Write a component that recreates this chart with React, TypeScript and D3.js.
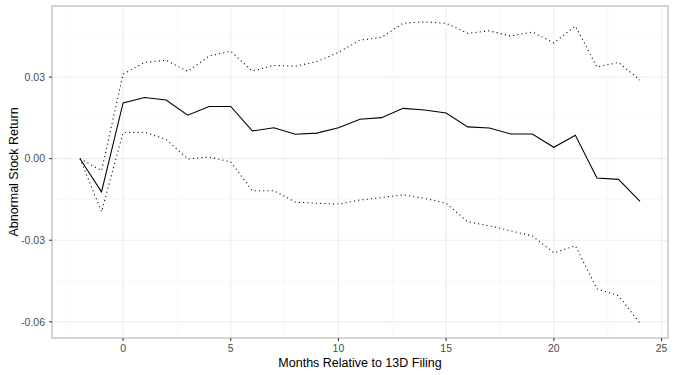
import React from "react";
import * as d3 from "d3";

const months = [-2, -1, 0, 1, 2, 3, 4, 5, 6, 7, 8, 9, 10, 11, 12, 13, 14, 15, 16, 17, 18, 19, 20, 21, 22, 23, 24];
const meanReturn = [0.0, -0.0122, 0.0205, 0.0225, 0.0216, 0.016, 0.0192, 0.0192, 0.0102, 0.0114, 0.009, 0.0094, 0.0114, 0.0145, 0.0151, 0.0185, 0.0179, 0.0168, 0.0117, 0.0113, 0.0091, 0.0091, 0.0042, 0.0086, -0.0071, -0.0076, -0.0157];
const upperBound = [0.0, -0.0044, 0.0311, 0.0354, 0.0362, 0.0321, 0.0378, 0.0395, 0.0322, 0.0343, 0.034, 0.0357, 0.0391, 0.0436, 0.0446, 0.0498, 0.0503, 0.0498, 0.0461, 0.047, 0.0451, 0.0466, 0.0426, 0.0488, 0.0337, 0.0354, 0.0289];
const lowerBound = [0.0, -0.0195, 0.0096, 0.0097, 0.0071, -0.0001, 0.0006, -0.0012, -0.0118, -0.0118, -0.016, -0.0164, -0.0167, -0.0152, -0.0143, -0.0133, -0.0146, -0.0164, -0.0232, -0.0247, -0.0265, -0.0284, -0.0346, -0.032, -0.0479, -0.0504, -0.0605];
const xTicks = [0, 5, 10, 15, 20, 25];
const xMinor = [-2.5, 2.5, 7.5, 12.5, 17.5, 22.5];
const yTicks = [-0.06, -0.03, 0.0, 0.03];
const yMinor = [-0.045, -0.015, 0.015, 0.045];
const xTitle = "Months Relative to 13D Filing";
const yTitle = "Abnormal Stock Return";

export default function App() {
  const W = 675, H = 375;
  const L = 52, R = 668, T = 6, B = 338;
  const xs = d3.scaleLinear().domain([-3.3, 25.3]).range([L, R]);
  const yMin = -0.0604, yMax = 0.0506, pad = (yMax - yMin) * 0.05;
  const ys = d3.scaleLinear().domain([yMin - pad, yMax + pad]).range([B, T]);
  const line = (vals: number[]) =>
    d3.line<number>().x((_, i) => xs(months[i])).y((v) => ys(v))(vals) || "";
  const font = "'Liberation Sans', Arial, Helvetica, sans-serif";
  return (
    <svg width={W} height={H} style={{ position: "absolute", left: 0, top: 0 }} fontFamily={font}>
      <rect x={0} y={0} width={W} height={H} fill="#fff" />
      {xMinor.map((t) => (
        <line key={"xm" + t} x1={xs(t)} x2={xs(t)} y1={T} y2={B} stroke="#F5F5F5" strokeWidth={0.6} />
      ))}
      {yMinor.map((t) => (
        <line key={"ym" + t} x1={L} x2={R} y1={ys(t)} y2={ys(t)} stroke="#F5F5F5" strokeWidth={0.6} />
      ))}
      {xTicks.map((t) => (
        <line key={"xg" + t} x1={xs(t)} x2={xs(t)} y1={T} y2={B} stroke="#EBEBEB" strokeWidth={1} />
      ))}
      {yTicks.map((t) => (
        <line key={"yg" + t} x1={L} x2={R} y1={ys(t)} y2={ys(t)} stroke="#EBEBEB" strokeWidth={1} />
      ))}
      <path d={line(upperBound)} fill="none" stroke="#000" strokeWidth={1.07} strokeDasharray="1.07 3.2" />
      <path d={line(lowerBound)} fill="none" stroke="#000" strokeWidth={1.07} strokeDasharray="1.07 3.2" />
      <path d={line(meanReturn)} fill="none" stroke="#000" strokeWidth={1.07} />
      <rect x={L} y={T} width={R - L} height={B - T} fill="none" stroke="#ABABAB" strokeWidth={1} />
      {xTicks.map((t) => (
        <g key={"xt" + t}>
          <line x1={xs(t)} x2={xs(t)} y1={B} y2={B + 3} stroke="#333" strokeWidth={1} />
          <text x={xs(t)} y={B + 14} textAnchor="middle" fontSize={10.5} fill="#4D4D4D">{String(t)}</text>
        </g>
      ))}
      {yTicks.map((t) => (
        <g key={"yt" + t}>
          <line x1={L - 3} x2={L} y1={ys(t)} y2={ys(t)} stroke="#333" strokeWidth={1} />
          <text x={L - 7} y={ys(t) + 3.7} textAnchor="end" fontSize={10.5} fill="#4D4D4D">{d3.format(".2f")(t).replace("−", "-")}</text>
        </g>
      ))}
      <text x={(L + R) / 2} y={367} textAnchor="middle" fontSize={12.5} fill="#000">{xTitle}</text>
      <text transform={`translate(18, ${(T + B) / 2}) rotate(-90)`} textAnchor="middle" fontSize={12.5} fill="#000">{yTitle}</text>
    </svg>
  );
}
